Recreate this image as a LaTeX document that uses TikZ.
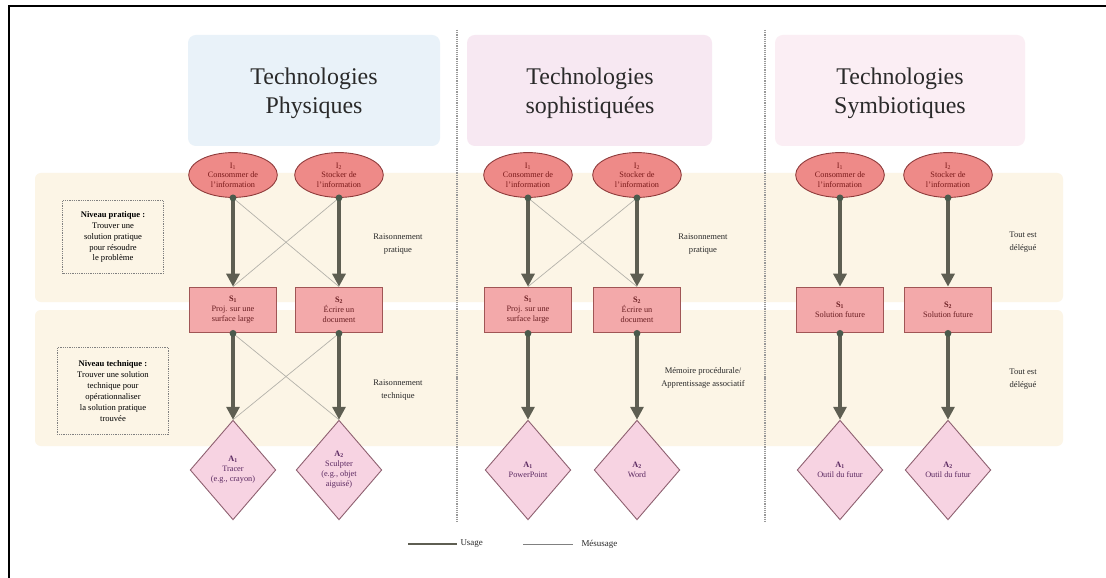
\documentclass[tikz,border=0pt]{standalone}
\usepackage{fontspec}
\setmainfont{Liberation Serif}
\usetikzlibrary{shapes.geometric,arrows.meta}
\definecolor{ellfill}{HTML}{EE8A88}
\definecolor{ellborder}{HTML}{8E3B3B}
\definecolor{elltext}{HTML}{7A1A1A}
\definecolor{recfill}{HTML}{F3A9AA}
\definecolor{recborder}{HTML}{A05555}
\definecolor{rectext}{HTML}{6A1E22}
\definecolor{diafill}{HTML}{F7D3E2}
\definecolor{diaborder}{HTML}{8E6070}
\definecolor{diatext}{HTML}{5A2860}
\definecolor{usecol}{HTML}{5E5E52}
\definecolor{dotcol}{HTML}{4A5A4C}
\definecolor{thincol}{HTML}{B4B2AA}
\definecolor{bandcol}{HTML}{FCF5E6}
\definecolor{titleA}{HTML}{E9F2F9}
\definecolor{titleB}{HTML}{F7E8F2}
\definecolor{titleC}{HTML}{FBEEF4}
\definecolor{txtcol}{HTML}{2A2A2A}
\tikzset{
  infonode/.style={ellipse, draw=ellborder, fill=ellfill, line width=0.9pt,
    minimum width=89pt, minimum height=45pt, inner sep=0pt, align=center,
    font=\fontsize{8.3}{9.6}\selectfont, text=elltext},
  solnode/.style={rectangle, draw=recborder, fill=recfill, line width=0.9pt,
    minimum width=87pt, minimum height=46pt, inner sep=0pt, align=center,
    font=\fontsize{8.3}{10}\selectfont, text=rectext},
  toolnode/.style={diamond, draw=diaborder, fill=diafill, line width=0.9pt,
    minimum width=86pt, minimum height=100pt, inner sep=0pt, align=center,
    font=\fontsize{8.3}{10}\selectfont, text=diatext},
  usage/.style={draw=usecol, line width=3.2pt, -{Triangle[length=13pt,width=13pt]}},
  misuse/.style={draw=thincol, line width=0.7pt},
  titlebox/.style={rounded corners=8pt, draw=none},
  titletext/.style={align=center, font=\fontsize{24}{29}\selectfont, text=txtcol},
  sidelabel/.style={align=center, font=\fontsize{8.6}{13}\selectfont, text=txtcol},
  levelbox/.style={draw=gray, densely dotted, line width=0.8pt, align=center,
    font=\fontsize{8.6}{11}\selectfont, text=black, inner sep=2pt},
  divider/.style={draw=gray!80, densely dotted, line width=1.2pt},
  legendtext/.style={font=\fontsize{9}{11}\selectfont, text=txtcol, anchor=west}
}
\begin{document}
\begin{tikzpicture}[x=1bp,y=-1bp]
\useasboundingbox (0,0) rectangle (1106,578);
\fill[white] (0,0) rectangle (1106,578);
% frame
\draw[black, line width=2pt] (9,578) -- (9,6) -- (1106,6);
% bands
\fill[bandcol, rounded corners=6pt] (35,173) rectangle (1063,302);
\fill[bandcol, rounded corners=6pt] (35,310) rectangle (1063,446);
% title boxes
\fill[titleA, titlebox] (188,35) rectangle (440,146);
\fill[titleB, titlebox] (467,35) rectangle (712,146);
\fill[titleC, titlebox] (775,35) rectangle (1025,146);
\node[titletext] (t1) at (314,93) {Technologies\\Physiques};
\node[titletext] (t2) at (590,93) {Technologies\\sophistiquées};
\node[titletext] (t3) at (900,93) {Technologies\\Symbiotiques};
% dividers
\draw[divider] (457,30) -- (457,523);
\draw[divider] (765,30) -- (765,523);
% level boxes
\node[levelbox, minimum width=101pt, minimum height=73pt] (lp) at (113,237)
  {\textbf{Niveau pratique :}\\Trouver une\\solution pratique\\pour résoudre\\le problème};
\node[levelbox, minimum width=112pt, minimum height=87pt] (lt) at (113,391)
  {\textbf{Niveau technique :}\\Trouver une solution\\technique pour\\opérationnaliser\\la solution pratique\\trouvée};
% column 1
\node[infonode] (a-i1) at (233,175) {I\textsubscript{1}\\Consommer de\\l'information};
\node[infonode] (a-i2) at (339,175) {I\textsubscript{2}\\Stocker de\\l'information};
\node[solnode] (a-s1) at (233,310) {\textbf{S\textsubscript{1}}\\Proj. sur une\\surface large};
\node[solnode] (a-s2) at (339,310) {\textbf{S\textsubscript{2}}\\Écrire un\\document};
\node[toolnode] (a-a1) at (233,470) {\textbf{A\textsubscript{1}}\\Tracer\\(e.g., crayon)};
\node[toolnode] (a-a2) at (339,470) {\textbf{A\textsubscript{2}}\\Sculpter\\(e.g., objet\\aiguisé)};
% column 2
\node[infonode] (b-i1) at (528,175) {I\textsubscript{1}\\Consommer de\\l'information};
\node[infonode] (b-i2) at (637,175) {I\textsubscript{2}\\Stocker de\\l'information};
\node[solnode] (b-s1) at (528,310) {\textbf{S\textsubscript{1}}\\Proj. sur une\\surface large};
\node[solnode] (b-s2) at (637,310) {\textbf{S\textsubscript{2}}\\Écrire un\\document};
\node[toolnode] (b-a1) at (528,470) {\textbf{A\textsubscript{1}}\\PowerPoint};
\node[toolnode] (b-a2) at (637,470) {\textbf{A\textsubscript{2}}\\Word};
% column 3
\node[infonode] (c-i1) at (840,175) {I\textsubscript{1}\\Consommer de\\l'information};
\node[infonode] (c-i2) at (948,175) {I\textsubscript{2}\\Stocker de\\l'information};
\node[solnode] (c-s1) at (840,310) {\textbf{S\textsubscript{1}}\\Solution future};
\node[solnode] (c-s2) at (948,310) {\textbf{S\textsubscript{2}}\\Solution future};
\node[toolnode] (c-a1) at (840,470) {\textbf{A\textsubscript{1}}\\Outil du futur};
\node[toolnode] (c-a2) at (948,470) {\textbf{A\textsubscript{2}}\\Outil du futur};
% misuse (thin) lines
\draw[misuse] (a-i1.south) -- (a-s2.north);
\draw[misuse] (a-i2.south) -- (a-s1.north);
\draw[misuse] (a-s1.south) -- (a-a2.north);
\draw[misuse] (a-s2.south) -- (a-a1.north);
\draw[misuse] (b-i1.south) -- (b-s2.north);
\draw[misuse] (b-i2.south) -- (b-s1.north);
% usage (thick) arrows
\foreach \c in {a,b,c}{
  \foreach \k in {1,2}{
    \draw[usage] (\c-i\k.south) -- (\c-s\k.north);
    \draw[usage] (\c-s\k.south) -- (\c-a\k.north);
    \fill[dotcol] (\c-i\k.south) circle (3.4);
    \fill[dotcol] (\c-s\k.south) circle (3.4);
  }
}
% side labels
\node[sidelabel] (la1) at (398,244) {Raisonnement\\pratique};
\node[sidelabel] (la2) at (398,390) {Raisonnement\\technique};
\node[sidelabel] (lb1) at (703,244) {Raisonnement\\pratique};
\node[sidelabel] (lb2) at (703,378) {Mémoire procédurale/\\Apprentissage associatif};
\node[sidelabel] (lc1) at (1023,242) {Tout est\\délégué};
\node[sidelabel] (lc2) at (1023,379) {Tout est\\délégué};
% legend
\coordinate (u0) at (408,544);
\coordinate (u1) at (457,544);
\coordinate (m0) at (523,544);
\coordinate (m1) at (573,544);
\draw[draw=usecol, line width=3pt] (u0) -- (u1);
\node[legendtext] (lu) at (457,544) {Usage};
\draw[draw=gray, line width=0.6pt] (m0) -- (m1);
\node[legendtext] (lm) at (578,544) {Mésusage};
\end{tikzpicture}
\end{document}
